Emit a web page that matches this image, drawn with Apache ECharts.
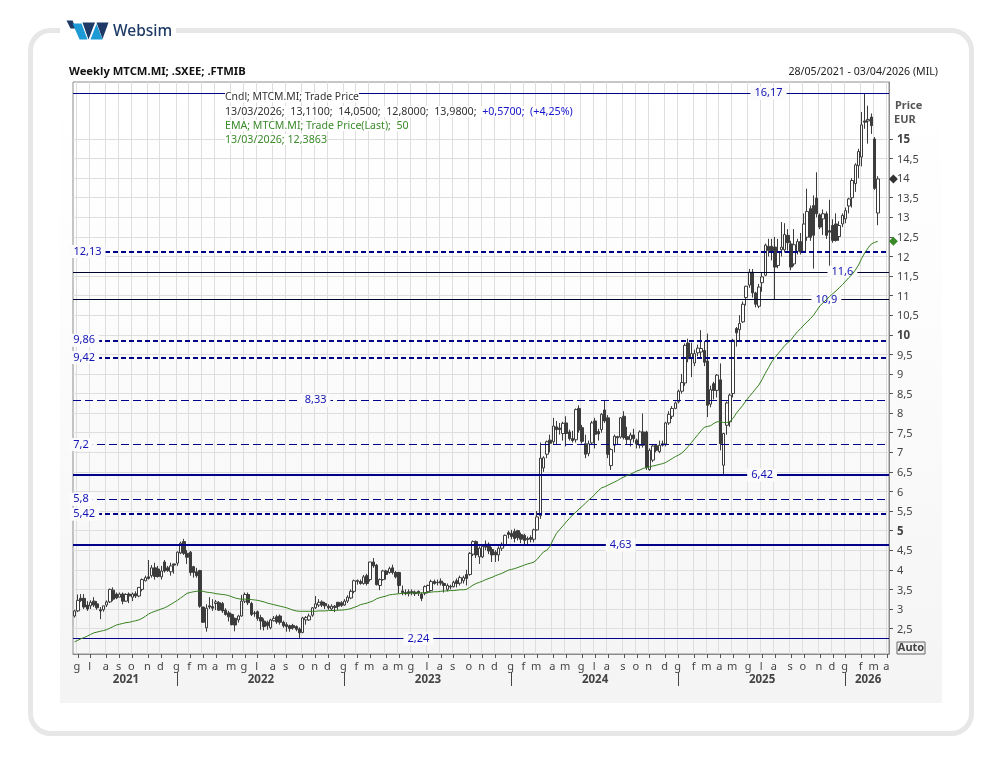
<!DOCTYPE html>
<html>
<head>
<meta charset="utf-8">
<title>Weekly MTCM.MI</title>
<style>
    html, body { margin: 0; padding: 0; background: #fff; }
    #chart { width: 1003px; height: 764px; }
</style>
</head>
<body>
<div id="chart"></div>
<script src="https://cdn.jsdelivr.net/npm/echarts@6/dist/echarts.min.js"></script>
<script>
// weekly candles: [open, close, low, high]
var candles = [
    [2.82,2.95,2.78,2.98],[2.95,3.22,2.92,3.37],[3.27,3.22,3.18,3.38],[3.27,3.05,3.0,3.38],[3.1,3.0,2.95,3.2],
    [3.08,3.17,3.0,3.22],[3.2,3.1,3.05,3.3],[3.13,3.03,2.98,3.2],[2.98,2.95,2.74,3.05],[2.98,3.08,2.93,3.08],
    [3.1,3.18,3.05,3.22],[3.18,3.5,3.15,3.52],[3.48,3.25,3.2,3.55],[3.38,3.28,3.25,3.42],[3.3,3.38,3.3,3.42],
    [3.38,3.2,3.12,3.42],[3.2,3.37,3.18,3.4],[3.38,3.33,3.15,3.42],[3.3,3.38,3.2,3.42],[3.39,3.33,3.28,3.45],
    [3.33,3.55,3.3,3.55],[3.5,3.75,3.45,3.78],[3.72,3.8,3.7,3.85],[3.82,3.78,3.75,4.25],[3.85,4.05,3.8,4.12],
    [4.05,3.83,3.75,4.18],[4.02,3.83,3.8,4.1],[3.82,3.97,3.75,4.1],[4.2,3.97,3.93,4.25],[4.05,3.98,3.95,4.1],
    [3.95,4.1,3.85,4.18],[4.15,4.12,3.9,4.15],[4.17,4.45,4.1,4.47],[4.43,4.68,4.4,4.72],[4.72,4.42,4.38,4.79],
    [4.42,4.32,4.15,4.5],[4.45,3.93,3.85,4.48],[4.08,3.93,3.8,4.1],[3.95,3.85,3.8,4.05],[3.98,3.07,3.03,4.0],
    [3.05,2.66,2.65,3.05],[2.52,3.02,2.42,3.12],[3.08,3.05,3.0,3.3],[3.06,3.02,2.95,3.25],[3.14,3.18,2.97,3.23],
    [3.16,2.97,2.95,3.2],[3.14,2.95,2.9,3.18],[2.97,2.86,2.83,3.02],[2.9,2.8,2.68,2.95],[2.86,2.6,2.58,2.88],
    [2.76,2.59,2.43,2.78],[2.72,2.82,2.65,2.85],[2.82,3.2,2.8,3.36],[3.2,3.37,3.15,3.42],[3.37,3.16,3.1,3.42],
    [3.14,2.86,2.82,3.18],[2.9,2.88,2.8,2.95],[2.93,2.76,2.7,2.96],[2.78,2.69,2.47,2.85],[2.69,2.55,2.45,2.76],
    [2.66,2.57,2.47,2.7],[2.52,2.72,2.48,2.75],[2.7,2.76,2.68,2.82],[2.8,2.67,2.62,2.85],[2.82,2.66,2.6,2.86],
    [2.66,2.57,2.52,2.7],[2.6,2.55,2.42,2.66],[2.57,2.5,2.42,2.6],[2.58,2.52,2.47,2.62],[2.55,2.48,2.43,2.58],
    [2.49,2.39,2.24,2.53],[2.4,2.77,2.38,2.8],[2.72,2.78,2.6,2.82],[2.72,2.82,2.7,2.88],[2.84,3.03,2.8,3.05],
    [3.03,3.13,3.0,3.33],[3.1,3.17,3.05,3.25],[3.18,3.1,3.05,3.22],[3.14,3.08,3.0,3.18],[3.07,3.03,2.98,3.12],
    [3.0,3.07,2.95,3.12],[3.07,3.04,2.92,3.1],[3.17,3.07,2.98,3.18],[3.16,3.09,3.05,3.2],[3.1,3.2,3.08,3.25],
    [3.2,3.3,3.15,3.35],[3.28,3.45,3.25,3.5],[3.45,3.72,3.4,3.75],[3.7,3.73,3.62,3.75],[3.7,3.65,3.62,3.75],
    [3.65,3.82,3.62,3.87],[3.85,3.65,3.6,3.9],[3.75,4.2,3.7,4.2],[4.2,4.1,4.05,4.3],[4.12,3.62,3.6,4.15],
    [3.6,3.75,3.48,3.78],[3.75,3.97,3.72,4.0],[3.97,3.88,3.75,4.0],[3.93,4.03,3.9,4.08],[4.05,3.93,3.88,4.13],
    [3.93,3.82,3.78,3.97],[3.93,3.6,3.4,3.95],[3.46,3.42,3.35,3.6],[3.42,3.39,3.35,3.5],[3.44,3.39,3.32,3.5],
    [3.44,3.41,3.35,3.5],[3.43,3.39,3.33,3.47],[3.45,3.4,3.33,3.47],[3.38,3.27,3.2,3.42],[3.4,3.57,3.35,3.6],
    [3.44,3.6,3.4,3.62],[3.47,3.7,3.45,3.75],[3.7,3.65,3.62,3.75],[3.68,3.67,3.6,3.75],[3.71,3.66,3.6,3.78],
    [3.65,3.6,3.42,3.68],[3.5,3.6,3.45,3.65],[3.58,3.56,3.5,3.62],[3.57,3.68,3.55,3.72],[3.72,3.65,3.55,3.78],
    [3.66,3.8,3.6,3.85],[3.72,3.8,3.65,3.85],[3.88,3.78,3.6,4.0],[3.88,4.42,3.85,4.45],[4.4,4.72,4.35,4.75],
    [4.72,4.38,4.3,4.75],[4.33,4.55,4.15,4.6],[4.33,4.6,4.3,4.65],[4.65,4.58,4.5,4.75],[4.65,4.48,4.4,4.7],
    [4.52,4.38,4.2,4.58],[4.45,4.38,4.2,4.5],[4.38,4.55,4.22,4.6],[4.55,4.65,4.48,4.7],[4.63,4.88,4.6,4.9],
    [4.95,4.9,4.8,5.0],[4.93,4.85,4.78,5.02],[4.98,4.8,4.7,5.05],[5.0,4.82,4.75,5.02],[4.9,4.78,4.68,4.95],
    [4.88,4.75,4.65,4.92],[4.8,4.77,4.62,4.85],[4.82,4.78,4.7,4.88],[4.78,5.02,4.7,5.05],[5.02,5.35,5.0,5.5],
    [5.38,6.85,5.3,7.25],[6.6,6.86,6.5,6.9],[6.95,7.27,6.85,7.3],[7.31,7.23,7.0,7.45],[7.27,7.67,7.2,7.88],
    [7.65,7.58,7.2,7.8],[7.62,7.58,7.45,7.75],[7.48,7.74,7.3,7.78],[7.75,7.48,7.15,7.92],[7.52,7.35,7.3,7.58],
    [7.35,7.3,7.25,7.55],[7.32,8.09,7.25,8.12],[8.12,7.57,7.5,8.2],[7.63,7.28,7.22,7.7],[7.22,6.95,6.85,7.45],
    [6.97,7.22,6.9,7.3],[7.24,7.75,7.2,7.8],[7.8,7.46,7.1,7.88],[7.53,7.47,7.3,7.6],[7.58,7.97,7.5,8.0],
    [8.08,7.8,7.75,8.31],[7.88,6.95,6.85,7.95],[6.66,7.07,6.55,7.1],[7.18,7.41,7.0,7.45],[7.4,7.37,7.2,7.42],
    [7.39,7.88,7.35,7.9],[7.92,7.38,7.33,8.05],[7.4,7.33,7.2,7.65],[7.32,7.44,7.15,7.5],[7.44,7.35,7.25,7.6],
    [7.31,7.21,7.1,7.35],[7.18,7.52,7.1,7.56],[7.52,7.18,7.12,7.99],[7.52,6.61,6.55,7.55],[6.56,7.05,6.53,7.1],
    [6.8,7.16,6.75,7.2],[7.17,7.05,7.0,7.2],[7.02,7.18,6.98,7.3],[7.22,7.18,7.15,7.3],[7.21,7.75,7.15,7.78],
    [7.75,7.97,7.7,8.05],[7.92,8.12,7.85,8.18],[8.12,8.26,8.1,8.3],[8.29,8.56,8.25,8.6],[8.56,8.78,8.5,9.0],
    [8.77,9.73,8.7,9.78],[9.79,9.39,9.3,9.9],[9.4,9.52,8.92,9.8],[9.28,9.52,9.2,9.62],[9.54,9.66,9.45,9.75],
    [9.56,9.65,9.4,10.12],[9.6,9.3,9.2,9.84],[9.33,8.2,7.9,10.03],[8.23,8.6,8.15,8.7],[8.75,8.58,8.35,8.8],
    [8.58,8.97,8.4,9.0],[8.85,7.22,7.05,9.27],[6.67,7.48,6.42,7.5],[7.69,8.26,7.45,8.3],[7.78,8.46,7.65,8.5],
    [8.5,9.86,8.4,9.9],[10.16,10.05,9.7,10.2],[10.13,10.29,9.82,10.5],[10.33,10.78,10.3,10.85],[10.95,11.24,10.75,11.25],
    [11.27,11.6,11.2,11.68],[11.6,11.07,10.95,11.68],[11.07,10.78,10.7,11.1],[10.73,11.22,10.68,11.3],[11.33,11.48,11.1,11.6],
    [11.52,12.29,11.5,12.33],[12.26,12.15,12.0,12.45],[12.26,12.12,11.9,12.45],[12.24,11.73,10.89,12.5],[11.77,12.11,11.7,12.45],
    [12.17,12.24,12.0,12.88],[12.17,12.56,12.1,12.85],[12.54,12.35,12.15,12.7],[12.32,11.73,11.65,12.4],[11.81,12.3,11.75,12.7],
    [12.13,12.38,12.05,12.45],[12.38,12.11,12.05,12.6],[12.13,12.83,12.1,13.1],[12.49,13.15,12.4,13.73],[13.22,12.49,12.4,13.3],
    [13.3,12.54,11.69,13.56],[13.49,13.09,13.0,14.15],[13.06,12.75,12.7,13.1],[12.96,13.09,12.55,13.2],[13.09,12.54,12.45,13.15],
    [12.66,12.62,11.69,13.45],[12.79,12.41,12.35,12.95],[12.83,12.41,12.38,13.1],[12.51,12.79,12.4,12.9],[12.83,13.05,12.75,13.1],
    [12.96,13.17,12.85,13.25],[13.29,13.47,13.1,13.5],[13.5,13.94,13.25,14.0],[13.86,14.34,13.65,14.38],[14.32,14.68,14.0,14.75],
    [14.54,15.36,14.3,15.69],[15.46,15.43,15.26,16.17],[15.46,15.5,14.88,15.85],[15.56,15.34,15.13,15.65],[15.0,13.74,13.7,15.05],
    [13.11,13.98,12.8,14.05]
];

var ema = [
    2.16,2.20,2.24,2.27,2.31,2.35,2.39,2.41,2.43,2.45,
    2.47,2.51,2.55,2.59,2.61,2.63,2.65,2.66,2.68,2.70,
    2.72,2.76,2.81,2.87,2.91,2.94,2.97,3.00,3.03,3.07,
    3.12,3.17,3.22,3.28,3.34,3.40,3.42,3.44,3.45,3.46,
    3.45,3.43,3.42,3.41,3.39,3.38,3.37,3.36,3.34,3.31,
    3.28,3.26,3.25,3.25,3.25,3.24,3.23,3.22,3.20,3.18,
    3.15,3.13,3.11,3.09,3.07,3.05,3.03,3.00,2.97,2.95,
    2.94,2.94,2.94,2.94,2.94,2.94,2.95,2.95,2.95,2.96,
    2.96,2.96,2.97,2.97,2.98,2.99,3.01,3.04,3.07,3.11,
    3.13,3.15,3.18,3.21,3.26,3.29,3.31,3.33,3.36,3.37,
    3.38,3.39,3.40,3.40,3.40,3.41,3.41,3.41,3.41,3.42,
    3.42,3.43,3.44,3.44,3.45,3.46,3.46,3.47,3.47,3.48,
    3.49,3.49,3.50,3.55,3.61,3.65,3.68,3.71,3.75,3.78,
    3.81,3.85,3.88,3.91,3.95,3.99,4.01,4.03,4.06,4.09,
    4.12,4.15,4.17,4.20,4.27,4.37,4.46,4.50,4.60,4.78,
    4.93,5.03,5.12,5.22,5.31,5.40,5.47,5.55,5.62,5.70,
    5.78,5.85,5.93,6.02,6.09,6.12,6.16,6.20,6.24,6.28,
    6.33,6.37,6.41,6.44,6.48,6.52,6.55,6.59,6.61,6.63,
    6.65,6.67,6.69,6.71,6.74,6.79,6.84,6.89,6.93,6.98,
    7.06,7.15,7.25,7.35,7.45,7.55,7.64,7.66,7.68,7.74,
    7.78,7.78,7.76,7.76,7.79,7.87,8.00,8.10,8.20,8.32,
    8.42,8.52,8.62,8.72,8.86,9.02,9.16,9.31,9.42,9.52,
    9.62,9.72,9.80,9.87,9.98,10.08,10.16,10.25,10.33,10.41,
    10.50,10.62,10.74,10.82,10.90,10.98,11.05,11.12,11.20,11.28,
    11.37,11.46,11.54,11.65,11.78,11.95,12.10,12.22,12.32,12.36,
    12.3863
];

var firstWeek = Date.UTC(2021, 4, 28);
var weekCount = 254;                 // axis runs to 03/04/2026
var monthInitials = ['g', 'f', 'm', 'a', 'm', 'g', 'l', 'a', 's', 'o', 'n', 'd'];
var priceTicks = [2.5, 3, 3.5, 4, 4.5, 5, 5.5, 6, 6.5, 7, 7.5, 8, 8.5, 9, 9.5, 10, 10.5, 11, 11.5, 12, 12.5, 13, 13.5, 14, 14.5, 15];

// drawn levels
var levelValues = [16.17, 12.13, 11.6, 10.9, 9.86, 9.42, 8.33, 7.2, 6.42, 5.8, 5.42, 4.63, 2.24];
var levelKinds = ['thin', 'heavyDash', 'plain', 'plain', 'heavyDash', 'heavyDash', 'dash', 'dash', 'heavy', 'dash', 'heavyDash', 'heavy', 'thin'];

// ---- everything below is layout and styling ----
var FONT = '"Noto Sans", sans-serif';
var weekDates = [];
for (var w = 0; w < weekCount; w++) {
    weekDates.push(new Date(firstWeek + w * 7 * 86400000));
}
var categories = weekDates.map(function (d) { return d.toISOString().slice(0, 10); });

function isMonthStart(i) { return weekDates[i].getUTCDate() <= 7; }
function isYearStart(i) { return isMonthStart(i) && weekDates[i].getUTCMonth() === 0; }

// middle week of each year on the axis carries the year label
var yearMiddles = {};
(function () {
    var start = 0;
    for (var i = 1; i <= weekCount; i++) {
        if (i === weekCount || isYearStart(i)) {
            yearMiddles[Math.floor((start + i - 1) / 2) + 1] = weekDates[start].getUTCFullYear();
            start = i;
        }
    }
})();

var levelStyles = {
    thin: { color: '#00008b', width: 1, type: 'solid' },
    plain: { color: '#000030', width: 1, type: 'solid' },
    heavy: { color: '#00008b', width: 2, type: 'solid' },
    heavyDash: { color: '#00008b', width: 2, type: [5, 3] },
    dash: { color: '#00008b', width: 1, type: [8, 4] }
};
// week index each level's label sits on
var levelLabelAt = [216, 4, 239, 234, 3, 3, 75, 2, 214, 2, 3, 170, 107];

function comma(v) { return String(v).replace('.', ','); }

var lastClose = candles[candles.length - 1][1];
var lastEma = ema[ema.length - 1];

var levelLabels = levelValues.map(function (v, i) {
    return {
        coord: [categories[levelLabelAt[i]], v],
        symbol: 'rect',
        symbolSize: 1,
        itemStyle: { color: 'rgba(0,0,0,0)' },
        label: {
            show: true, position: 'inside', formatter: comma(v),
            color: '#1414b4', fontFamily: FONT, fontSize: 11,
            backgroundColor: '#fbfbfb', padding: [0, 4, 0, 4], lineHeight: 13
        }
    };
});
var lastMarkers = [
    { coord: [categories[weekCount - 1], lastClose], symbol: 'diamond', symbolSize: 9, symbolOffset: [6, 0], itemStyle: { color: '#333' }, label: { show: false } },
    { coord: [categories[weekCount - 1], lastEma], symbol: 'diamond', symbolSize: 9, symbolOffset: [6, 0], itemStyle: { color: '#3a8a2a' }, label: { show: false } }
];

// one empty helper series per line style, the lines are its markLine
var levelSeries = Object.keys(levelStyles).map(function (kind) {
    return {
        name: kind,
        type: 'line',
        data: [],
        markLine: {
            silent: true, symbol: 'none', animation: false,
            label: { show: false },
            lineStyle: levelStyles[kind],
            data: levelValues.filter(function (v, i) { return levelKinds[i] === kind; })
                .map(function (v) { return { yAxis: v }; })
        }
    };
});

function txt(x, y, text, fill, extra) {
    var style = { x: x, y: y, text: text, fill: fill, font: '10.6px ' + FONT, verticalAlign: 'middle' };
    for (var k in extra) { style[k] = extra[k]; }
    return { type: 'text', z: 20, style: style };
}

var graphics = [
    // frame and panel
    { type: 'rect', z: -10, shape: { x: 30.5, y: 30.5, width: 941, height: 703, r: 20 }, style: { fill: '#fff', stroke: '#e7e7e7', lineWidth: 5 } },
    { type: 'rect', z: -9, shape: { x: 60, y: 25, width: 116, height: 12 }, style: { fill: '#fff' } },
    { type: 'rect', z: -9, shape: { x: 60, y: 60, width: 882, height: 643 }, style: {
        fill: { type: 'linear', x: 0, y: 0, x2: 0, y2: 1, colorStops: [{ offset: 0, color: '#ffffff' }, { offset: 0.35, color: '#fdfdfd' }, { offset: 1, color: '#f4f4f4' }] }
    } },
    // logo
    { type: 'polygon', z: 20, shape: { points: [[66.5, 20.5], [72.5, 20.5], [76, 28.5], [70.5, 28.5]] }, style: { fill: '#1d3a66' } },
    { type: 'polygon', z: 20, shape: { points: [[72.5, 23.5], [81.5, 23.5], [87.5, 39.5], [79.5, 39.5]] }, style: { fill: '#1b9ad6' } },
    { type: 'polygon', z: 20, shape: { points: [[82.5, 22.5], [95, 22.5], [88.5, 39.5]] }, style: { fill: '#1d3a66' } },
    { type: 'polygon', z: 20, shape: { points: [[90.5, 39.5], [96.5, 24], [102.5, 39.5]] }, style: { fill: '#1b9ad6' } },
    { type: 'polygon', z: 20, shape: { points: [[96.5, 22.5], [108.5, 22.5], [102.5, 39]] }, style: { fill: '#1d3a66' } },
    txt(113, 31.5, 'Websim', '#1d3a66', { font: '500 15.5px ' + FONT }),
    // headings
    txt(69, 71.5, 'Weekly MTCM.MI; .SXEE; .FTMIB', '#111', { font: 'bold 11.25px ' + FONT }),
    txt(938, 71.5, '28/05/2021 - 03/04/2026 (MIL)', '#222', { align: 'right' }),
    // series readout
    txt(225, 97.5, 'Cndl; MTCM.MI; Trade Price', '#333', { backgroundColor: '#fff', font: '10.4px ' + FONT }),
    txt(225, 111.5, '{a|13/03/2026;  13,1100;  14,0500;  12,8000;  13,9800;  }{b|+0,5700;  (+4,25%)}', '#333', {
        backgroundColor: '#fff',
        rich: { a: { fill: '#333', font: '10.7px ' + FONT }, b: { fill: '#1414c8', font: '10.7px ' + FONT } }
    }),
    txt(225, 125.5, 'EMA; MTCM.MI; Trade Price(Last);  50', '#3a8a2a', { backgroundColor: '#fff', font: '10.6px ' + FONT }),
    txt(225, 139.5, '13/03/2026; 12,3863', '#3a8a2a', { backgroundColor: '#fff', font: '10.7px ' + FONT }),
    // axis captions
    txt(895, 105.5, 'Price', '#555', { font: 'bold 11px ' + FONT }),
    txt(894, 120, 'EUR', '#555', { font: 'bold 11px ' + FONT }),
    { type: 'rect', z: 20, shape: { x: 897, y: 642, width: 28, height: 12 }, style: { fill: '#f3f3f3', stroke: '#666', lineWidth: 1 } },
    txt(911, 648, 'Auto', '#444', { font: 'bold 11px ' + FONT, align: 'center' })
];

var myChart = echarts.init(document.getElementById('chart'));
var option = {
    animation: false,
    graphic: graphics,
    grid: {
        left: 73, right: 114, top: 82, bottom: 110,
        show: true, borderColor: '#8c8c8c', borderWidth: 1, backgroundColor: 'transparent'
    },
    xAxis: [{
        type: 'category',
        data: categories,
        axisLine: { onZero: false, lineStyle: { color: '#8c8c8c' } },
        axisTick: {
            show: true,
            alignWithLabel: true, length: 4, lineStyle: { color: '#555' },
            interval: function (i) { return isMonthStart(i); }
        },
        axisLabel: {
            interval: function (i) { return isMonthStart(i); },
            formatter: function (value) { return monthInitials[new Date(value).getUTCMonth()]; },
            color: '#444', fontFamily: FONT, fontSize: 11, margin: 7, padding: [0, 2, 0, 0]
        },
        splitLine: {
            show: true, lineStyle: { color: '#dedede', width: 1 },
            interval: function (i) { return isMonthStart(i); }
        }
    }, {
        type: 'category',
        position: 'bottom',
        offset: 18,
        data: categories,
        axisLine: { show: false },
        axisTick: {
            show: true,
            alignWithLabel: true, length: 14, lineStyle: { color: '#444' },
            interval: function (i) { return isYearStart(i); }
        },
        axisLabel: {
            interval: function (i) { return yearMiddles[i] !== undefined; },
            formatter: function (value) { return String(yearMiddles[categories.indexOf(value)]); },
            color: '#444', fontFamily: FONT, fontSize: 11.5, fontWeight: 'bold', margin: 2
        },
        splitLine: { show: false }
    }],
    yAxis: {
        type: 'value',
        position: 'right',
        min: 1.85,
        max: 16.455,
        scale: true,
        axisLine: { show: true, onZero: false, lineStyle: { color: '#8c8c8c' } },
        axisTick: { show: true, length: 4, customValues: priceTicks, lineStyle: { color: '#555' } },
        axisLabel: {
            customValues: priceTicks,
            margin: 8,
            padding: [2, 0, 0, 0],
            color: '#444', fontFamily: FONT, fontSize: 11,
            formatter: function (v) {
                return v % 5 === 0 ? '{b|' + comma(v) + '}' : comma(v);
            },
            rich: { b: { fontWeight: 'bold', fontSize: 11.5, color: '#444', fontFamily: FONT } }
        },
        splitLine: { show: true, lineStyle: { color: '#dedede', width: 1 } }
    },
    series: [{
        name: 'MTCM.MI',
        type: 'candlestick',
        data: candles,
        barWidth: 3,
        itemStyle: {
            color: '#ffffff', color0: '#3c3c3c',
            borderColor: '#3c3c3c', borderColor0: '#3c3c3c', borderWidth: 1
        },
        markPoint: {
            silent: true, z: 8, data: levelLabels.concat(lastMarkers)
        }
    }, {
        name: 'EMA',
        type: 'line',
        data: ema,
        z: 10,
        symbol: 'none',
        lineStyle: { color: '#35801f', width: 1 }
    }].concat(levelSeries)
};
option && myChart.setOption(option);
</script>
</body>
</html>
